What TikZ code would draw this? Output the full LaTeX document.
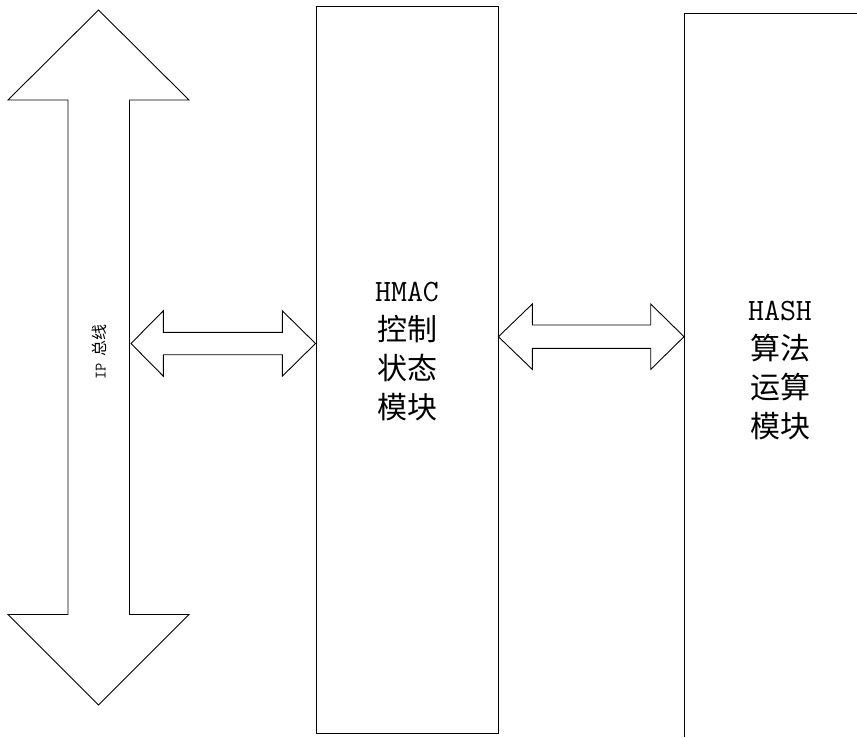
\documentclass[tikz,border=0pt]{standalone}
\usepackage{fontspec}
\newfontfamily\cjk{Noto Sans CJK SC}
\begin{document}
\begin{tikzpicture}[x=1pt,y=-1pt,
  outline/.style={draw=black,line width=0.9pt,line join=miter},
  biglabel/.style={align=center,inner sep=0pt,font=\fontsize{30}{39}\selectfont\cjk},
]
\useasboundingbox (0,0) rectangle (857,737);
% vertical IP bus arrow
\draw[outline] (98.5,10) -- (189,100) -- (129.5,100) -- (129.5,614.5) -- (189,614.5)
  -- (98.5,705) -- (8,614.5) -- (68,614.5) -- (68,100) -- (8,100) -- cycle;
\node[rotate=90,inner sep=0pt,font=\fontsize{16}{16}\selectfont\cjk] (ip) at (99.5,352) {{\ttfamily IP}\hspace{6pt}总线};
% HMAC box
\node[outline,minimum width=182pt,minimum height=727pt,inner sep=0pt,anchor=north west] (hmac) at (315.5,6) {};
\node[biglabel] (hmaclabel) at (407,352) {{\fontsize{31}{39}\selectfont\ttfamily HMAC}\\控制\\状态\\模块};
% HASH box (open right/bottom)
\coordinate (hashtl) at (684,13);
\coordinate (hashbl) at (684,737);
\coordinate (hashtr) at (857,13);
\draw[outline] (hashbl) -- (hashtl) -- (hashtr);
\node[biglabel] (hashlabel) at (780,371) {{\fontsize{31}{39}\selectfont\ttfamily HASH}\\算法\\运算\\模块};
% double arrow bus <-> HMAC
\draw[outline] (131,343.5) -- (163.3,310.8) -- (163.3,332.3) -- (282.3,332.3) -- (282.3,310.8)
  -- (hmac.west |- 0,343.5) -- (282.3,376.2) -- (282.3,354.7) -- (163.3,354.7) -- (163.3,376.2) -- cycle;
% double arrow HMAC <-> HASH
\draw[outline] (hmac.east |- 0,336.7) -- (532.3,304) -- (532.3,325) -- (650.7,325) -- (650.7,304)
  -- (hashtl |- 0,336.7) -- (650.7,369.4) -- (650.7,348.3) -- (532.3,348.3) -- (532.3,369.4) -- cycle;
\end{tikzpicture}
\end{document}
